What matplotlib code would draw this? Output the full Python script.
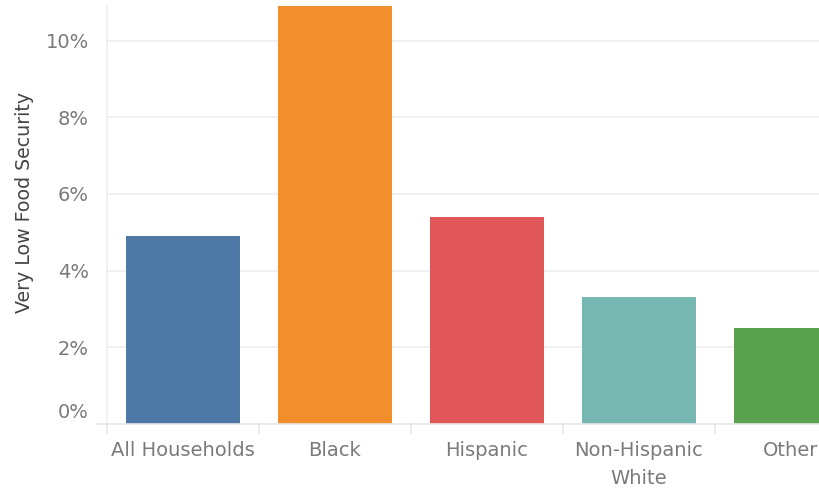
import matplotlib.pyplot as plt
import matplotlib.transforms as mtransforms
import numpy as np

# very low food security share by household group
groups = ['All Households', 'Black', 'Hispanic', 'Non-Hispanic\nWhite', 'Other']
vlfs_pct = [4.9, 10.9, 5.4, 3.3, 2.5]
bar_colors = ['#4e79a7', '#f28e2b', '#e15759', '#76b7b2', '#59a14f']
yticks = [0, 2, 4, 6, 8, 10]

W, H = 819, 493
fig = plt.figure(figsize=(W / 100, H / 100), dpi=100)
plt.rcParams['font.family'] = ['DejaVu Sans']

# plot area in pixel coords, right edge clipped by the figure
left, right, top, bottom = 107, 819, 6, 424
ax = fig.add_axes([left / W, (H - bottom) / H, (right - left) / W, (bottom - top) / H])

cat_w = 152
x = np.arange(len(groups))
ax.bar(x, vlfs_pct, width=114 / cat_w, color=bar_colors, zorder=2)

ax.set_xlim(-0.5, -0.5 + (right - left) / cat_w)
ax.set_ylim(0, 10.9)

grid_c = '#efefef'
for v in yticks[1:]:
    ax.axhline(v, color=grid_c, lw=1.2, zorder=0)

for s in ['top', 'right', 'bottom']:
    ax.spines[s].set_visible(False)
ax.spines['left'].set_color(grid_c)
ax.spines['left'].set_linewidth(1.2)

# zero line reaching a little past the left edge
ax.plot([-0.5 - 10 / cat_w, 5], [0, 0], color='#e6e6e6', lw=1.2, clip_on=False, zorder=3)

# category boundary ticks under the axis
for b in np.arange(-0.5, 4.5, 1.0):
    ax.plot([b, b], [0, -9 / 38.4], color='#e6e6e6', lw=1.2, clip_on=False)

ax.set_yticks(yticks)
ax.set_yticklabels([f'{v}%' for v in yticks])
ax.tick_params(axis='y', length=0, pad=13, labelsize=14, labelcolor='#7a7a7a')
# lift the bottom label so it sits clear of the axis
lbl0 = ax.get_yticklabels()[0]
lbl0.set_transform(lbl0.get_transform() + mtransforms.ScaledTranslation(0, 14 / 100, fig.dpi_scale_trans))

ax.set_xticks(x)
ax.set_xticklabels(groups, linespacing=1.6)
ax.tick_params(axis='x', length=0, pad=12, labelsize=14, labelcolor='#7a7a7a')

fig.text(25 / W, (H - 202) / H, 'Very Low Food Security', rotation=90,
         ha='center', va='center', fontsize=13.7, color='#444444')

fig.savefig('out.png', dpi=100)
